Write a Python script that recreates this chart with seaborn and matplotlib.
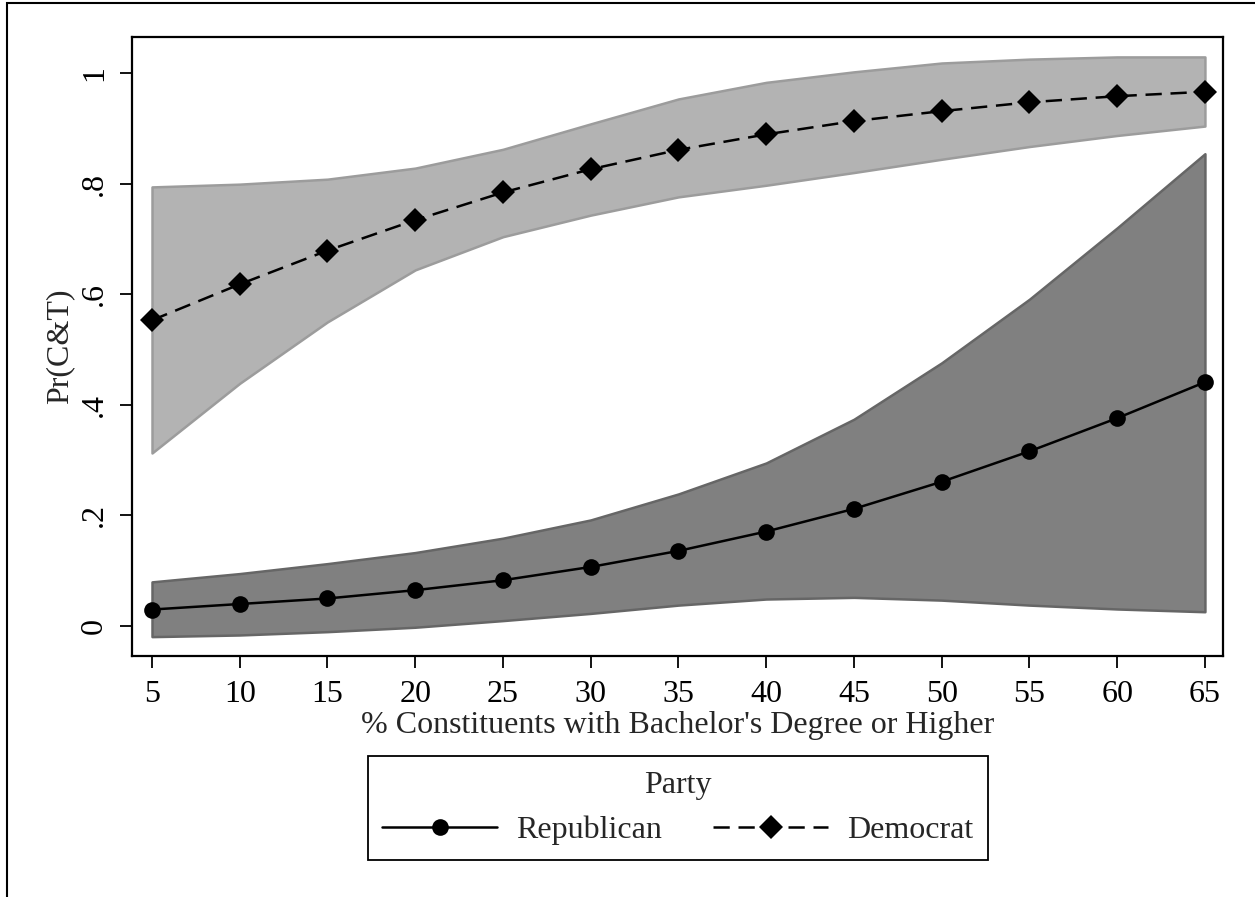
import numpy as np
import pandas as pd
import matplotlib
matplotlib.use("Agg")
import matplotlib.pyplot as plt
from matplotlib.lines import Line2D
from matplotlib.patches import Rectangle
import seaborn as sns

# Predicted probability of supporting cap-and-trade by district education level
education = [5, 10, 15, 20, 25, 30, 35, 40, 45, 50, 55, 60, 65]

rep_pr = [0.030, 0.040, 0.050, 0.065, 0.083, 0.107, 0.136, 0.171, 0.212, 0.261, 0.316, 0.376, 0.441]
rep_lo = [-0.019, -0.016, -0.010, -0.002, 0.010, 0.023, 0.038, 0.049, 0.052, 0.047, 0.038, 0.031, 0.026]
rep_hi = [0.080, 0.095, 0.113, 0.133, 0.159, 0.192, 0.239, 0.295, 0.374, 0.476, 0.591, 0.720, 0.854]

dem_pr = [0.553, 0.618, 0.679, 0.734, 0.784, 0.826, 0.861, 0.889, 0.913, 0.931, 0.947, 0.958, 0.966]
dem_lo = [0.313, 0.439, 0.550, 0.644, 0.704, 0.743, 0.776, 0.797, 0.820, 0.844, 0.867, 0.887, 0.904]
dem_hi = [0.794, 0.799, 0.808, 0.828, 0.862, 0.908, 0.953, 0.983, 1.002, 1.018, 1.025, 1.029, 1.029]

y_ticks = [0, 0.2, 0.4, 0.6, 0.8, 1.0]
y_tick_labels = ["0", ".2", ".4", ".6", ".8", "1"]
x_ticks = education

sns.set_style("ticks")
plt.rcParams["font.family"] = ["Liberation Serif", "DejaVu Serif"]
FS = 23

df = pd.DataFrame({
    "education": education * 2,
    "pr": rep_pr + dem_pr,
    "lo": rep_lo + dem_lo,
    "hi": rep_hi + dem_hi,
    "party": ["Republican"] * len(education) + ["Democrat"] * len(education),
})

fig = plt.figure(figsize=(12.55, 8.97), dpi=100)
ax = fig.add_axes([132 / 1255, 1 - 656 / 897, (1223 - 132) / 1255, (656 - 37) / 897])

band_style = {
    "Democrat": dict(facecolor="#b3b3b3", edgecolor="#9c9c9c"),
    "Republican": dict(facecolor="#808080", edgecolor="#666666"),
}
line_style = {
    "Republican": dict(marker="o", markersize=12, linestyle="-"),
    "Democrat": dict(marker="D", markersize=12.5, linestyle=(0, (6.5, 3.5))),
}

# confidence bands
for party in ["Democrat", "Republican"]:
    sub = df[df["party"] == party]
    ax.fill_between(sub["education"], sub["lo"], sub["hi"], linewidth=1.8,
                    zorder=1, **band_style[party])

# predicted probabilities
for party in ["Republican", "Democrat"]:
    sub = df[df["party"] == party]
    st = line_style[party]
    sns.lineplot(data=sub, x="education", y="pr", ax=ax, color="black",
                 linewidth=1.8, marker=st["marker"], markersize=st["markersize"],
                 markeredgewidth=0, linestyle=st["linestyle"], zorder=3,
                 legend=False)

ax.set_xlim(3.86, 66.03)
ax.set_ylim(-0.054, 1.065)
ax.set_xticks(x_ticks)
ax.set_xticklabels([str(v) for v in x_ticks], fontsize=FS)
ax.set_yticks(y_ticks)
ax.set_yticklabels(y_tick_labels, fontsize=FS, rotation=90, va="center")
ax.tick_params(direction="out", length=8.5, width=1.3, colors="black")
ax.tick_params(axis="x", pad=9)
ax.tick_params(axis="y", pad=8)
for sp in ax.spines.values():
    sp.set_linewidth(1.6)
    sp.set_color("black")

ax.set_xlabel("% Constituents with Bachelor's Degree or Higher", fontsize=FS, labelpad=1)
ax.set_ylabel("Pr(C&T)", fontsize=FS, labelpad=4)

handles = [
    Line2D([], [], color="black", lw=1.8, marker="o", markersize=12,
           markeredgewidth=0, linestyle="-"),
    Line2D([], [], color="black", lw=1.8, marker="D", markersize=12.5,
           markeredgewidth=0, linestyle=(0, (6.5, 3.5))),
]
leg = fig.legend(handles, ["Republican", "Democrat"], title="Party",
                 ncol=2, loc="center", bbox_to_anchor=(678 / 1255, 1 - 808 / 897),
                 fontsize=FS, title_fontsize=FS, frameon=True, fancybox=False,
                 handlelength=3.6, handletextpad=0.6, columnspacing=1.6,
                 borderpad=0.45, framealpha=1)
leg.get_frame().set_edgecolor("black")
leg.get_frame().set_linewidth(1.3)

# outer graph region border
fig.add_artist(Rectangle((7 / 1255, -0.5), 2.0, 0.5 + 1 - 3.5 / 897,
                         transform=fig.transFigure, fill=False,
                         edgecolor="black", linewidth=1.5, clip_on=False))

fig.savefig("out.png", dpi=100)
